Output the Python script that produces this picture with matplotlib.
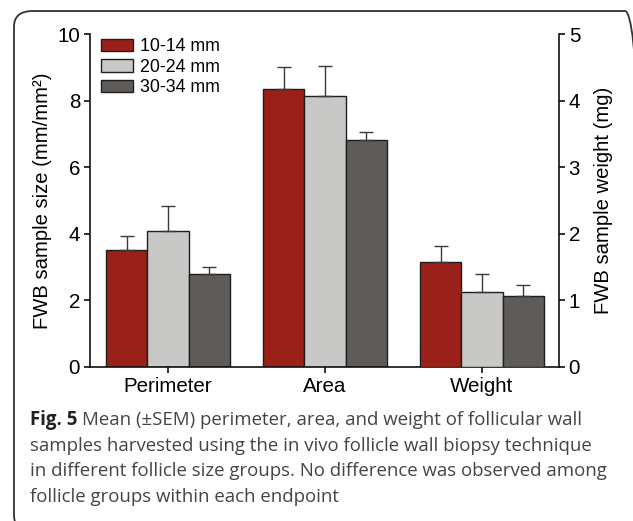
import matplotlib
matplotlib.use("Agg")
import matplotlib.pyplot as plt
import numpy as np
from matplotlib.patches import FancyBboxPatch

# group means and upper SEM per follicle size class
groups = ["10-14 mm", "20-24 mm", "30-34 mm"]
endpoints = ["Perimeter", "Area", "Weight"]
size_means = {"Perimeter": [3.50, 4.07, 2.79], "Area": [8.36, 8.15, 6.81]}
size_sem = {"Perimeter": [0.43, 0.78, 0.21], "Area": [0.66, 0.88, 0.26]}
weight_means = [1.57, 1.13, 1.06]
weight_sem = [0.24, 0.27, 0.17]

colors = ["#9b2019", "#c8c8c6", "#5f5b59"]
edge = "#1e1e1e"
errc = "#3a3a3a"

plt.rcParams["font.family"] = ["Liberation Sans", "DejaVu Sans"]

fig = plt.figure(figsize=(6.33, 5.21), dpi=100)
ax = fig.add_axes([0.142, 0.2956, 0.741, 0.6391])
ax2 = ax.twinx()

x = np.arange(len(endpoints))
w = 0.263
offs = [-w, 0, w]
err_kw = dict(ecolor=errc, elinewidth=1.0, capsize=4.7, capthick=1.0)

for i, g in enumerate(groups):
    vals = [size_means["Perimeter"][i], size_means["Area"][i]]
    errs = [size_sem["Perimeter"][i], size_sem["Area"][i]]
    ax.bar(x[:2] + offs[i], vals, w, color=colors[i], edgecolor=edge,
           linewidth=1.0, label=g, zorder=2,
           yerr=[np.zeros(2), errs], error_kw=err_kw)
    ax2.bar(x[2] + offs[i], weight_means[i], w, color=colors[i],
            edgecolor=edge, linewidth=1.0, zorder=2,
            yerr=[[0], [weight_sem[i]]], error_kw=err_kw)

ax.set_xlim(-0.497, 2.49)
ax.set_ylim(0, 10)
ax2.set_ylim(0, 5)
ax.set_yticks([0, 2, 4, 6, 8, 10])
ax2.set_yticks([0, 1, 2, 3, 4, 5])
ax.set_xticks(x)
ax.set_xticklabels(endpoints)

for a in (ax, ax2):
    a.spines["top"].set_visible(False)
    for s in a.spines.values():
        s.set_linewidth(1.2)
        s.set_color("#111111")
    a.tick_params(direction="out", length=4, width=1.2, labelsize=14.8,
                  color="#111111", pad=3)
ax.spines["right"].set_visible(False)
ax2.spines["left"].set_visible(False)
ax2.spines["bottom"].set_visible(False)

ax.set_ylabel("FWB sample size (mm/mm\u00b2)", fontsize=14.6, labelpad=4)
ax2.set_ylabel("FWB sample weight (mg)", fontsize=14.6, labelpad=10)

ax.legend(loc="upper left", bbox_to_anchor=(0.0, 1.02), frameon=False,
          fontsize=12.8, handlelength=1.85, handleheight=0.7,
          labelspacing=0.2, handletextpad=0.35, borderaxespad=0.2)

# rounded frame around figure and caption
frame = FancyBboxPatch((14 / 633, 0 - 10 / 521), 630 / 633, (521 - 11 + 10) / 521,
                       boxstyle="round,pad=0,rounding_size=0.03",
                       transform=fig.transFigure, fill=False,
                       edgecolor="#333333", linewidth=1.3, clip_on=False)
fig.patches.append(frame)

cap_font = ["Open Sans", "DejaVu Sans"]
cap_col = "#444444"
cap_size = 13.4
lines = ["samples harvested using the in vivo follicle wall biopsy technique",
         "in different follicle size groups. No difference was observed among",
         "follicle groups within each endpoint"]
y0 = 1 - 420 / 521
dy = 25.6 / 521
t = fig.text(30 / 633, y0, "Fig. 5", fontsize=cap_size, fontweight="bold",
             family=cap_font, color="#222222", va="center")
fig.canvas.draw()
bb = t.get_window_extent()
fig.text(bb.x1 / 633 + 0.007, y0,
         "Mean (\u00b1SEM) perimeter, area, and weight of follicular wall",
         fontsize=cap_size, family=cap_font, color=cap_col, va="center")
for k, ln in enumerate(lines):
    fig.text(30 / 633, y0 - (k + 1) * dy, ln, fontsize=cap_size,
             family=cap_font, color=cap_col, va="center")

fig.savefig("out.png", dpi=100)
